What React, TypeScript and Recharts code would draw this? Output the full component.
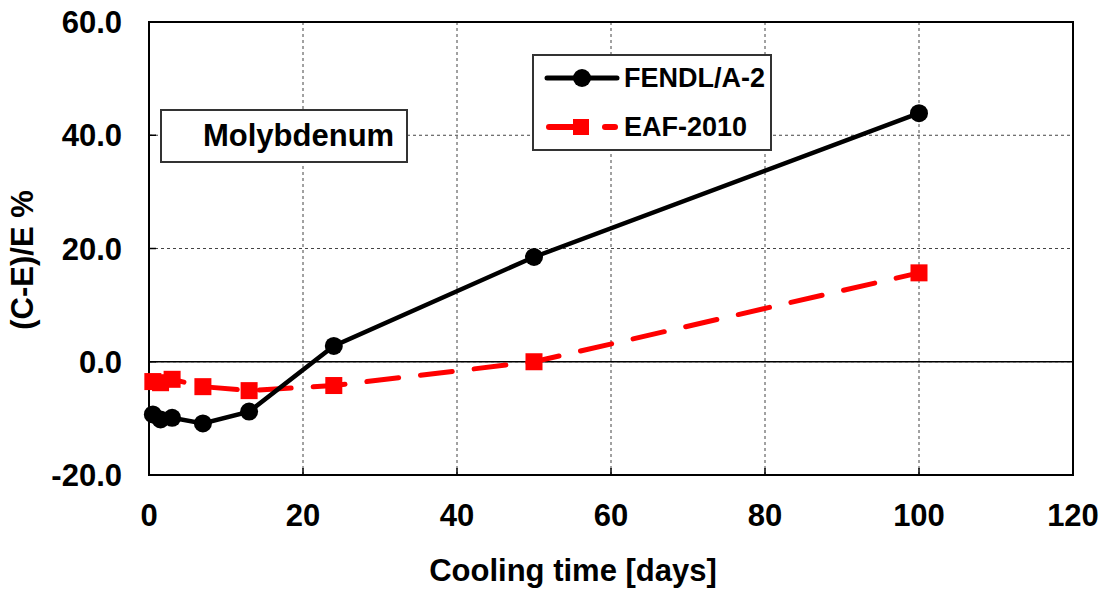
import {
  LineChart,
  Line,
  XAxis,
  YAxis,
  CartesianGrid,
  ReferenceLine,
  ReferenceArea,
} from 'recharts';

const coolingDays = [0.5, 1.5, 3, 7, 13, 24, 50, 100];
const fendlValues = [-9.3, -10.2, -9.9, -10.9, -8.8, 2.8, 18.5, 43.9];
const eafValues = [-3.5, -3.7, -3.1, -4.4, -5.1, -4.2, 0.0, 15.7];
const xTicks = [0, 20, 40, 60, 80, 100, 120];
const yTicks = [-20, 0, 20, 40, 60];

const FONT = '"Liberation Sans", Arial, sans-serif';
const RED = '#ff0000';
const DASH = '32 22';

const chartData = coolingDays.map((day, i) => ({
  day,
  fendl: fendlValues[i],
  eaf: eafValues[i],
}));

function SquareDot(props: any) {
  const { cx, cy } = props;
  if (cx == null || cy == null) return null;
  return <rect x={cx - 8.5} y={cy - 8.5} width={17} height={17} fill={RED} />;
}

function CircleDot(props: any) {
  const { cx, cy } = props;
  if (cx == null || cy == null) return null;
  return <circle cx={cx} cy={cy} r={9} fill="#000" />;
}

// legend drawn as an overlay so the chart does not reserve room for it
function LegendBox() {
  return (
    <div
      style={{
        position: 'absolute',
        left: 532,
        top: 54,
        width: 240,
        height: 97,
        border: '2px solid #333',
        background: '#fff',
        boxSizing: 'border-box',
      }}
    >
      <svg width={236} height={93} style={{ position: 'absolute', left: 0, top: 0 }}>
        <line x1={13} y1={22} x2={83} y2={22} stroke="#000" strokeWidth={5} strokeLinecap="round" />
        <circle cx={48} cy={22} r={9} fill="#000" />
        <text x={90} y={31} fontFamily={FONT} fontWeight="bold" fontSize={27} fill="#000">
          FENDL/A-2
        </text>
        <line x1={15} y1={71} x2={50} y2={71} stroke={RED} strokeWidth={6} strokeLinecap="round" />
        <rect x={39} y={63} width={16} height={16} fill={RED} />
        <line x1={71} y1={71} x2={81} y2={71} stroke={RED} strokeWidth={6} strokeLinecap="round" />
        <text x={90} y={80} fontFamily={FONT} fontWeight="bold" fontSize={27} fill="#000">
          EAF-2010
        </text>
      </svg>
    </div>
  );
}

export default function App() {
  return (
    <div style={{ position: 'absolute', left: 0, top: 0, width: 1104, height: 589, background: '#fff' }}>
      <LineChart
        width={1104}
        height={589}
        data={chartData}
        margin={{ top: 22, right: 31, left: 49, bottom: 24 }}
      >
        <CartesianGrid stroke="#444" strokeDasharray="3 3" strokeWidth={1} />
        <XAxis
          dataKey="day"
          type="number"
          domain={[0, 120]}
          ticks={xTicks}
          height={90}
          axisLine={false}
          tickSize={-7}
          tickMargin={36}
          tickLine={{ stroke: '#000', strokeWidth: 1.5 }}
          tick={{ fill: '#000', fontSize: 31, fontWeight: 'bold', fontFamily: FONT }}
          label={{
            content: () => (
              <text
                x={573}
                y={581}
                textAnchor="middle"
                fontFamily={FONT}
                fontWeight="bold"
                fontSize={31}
                fill="#000"
              >
                Cooling time [days]
              </text>
            ),
          }}
        />
        <YAxis
          type="number"
          domain={[-20, 60]}
          ticks={yTicks}
          width={100}
          axisLine={false}
          tickSize={-7}
          tickMargin={34}
          tickLine={{ stroke: '#000', strokeWidth: 1.5 }}
          tickFormatter={(v: number) => v.toFixed(1)}
          tick={{ fill: '#000', fontSize: 31, fontWeight: 'bold', fontFamily: FONT }}
          label={{
            content: () => (
              <text
                x={0}
                y={0}
                transform="translate(33, 260) rotate(-90)"
                textAnchor="middle"
                fontFamily={FONT}
                fontWeight="bold"
                fontSize={31}
                fill="#000"
              >
                (C-E)/E %
              </text>
            ),
          }}
        />
        <ReferenceLine y={0} stroke="#000" strokeWidth={1.5} />
        <ReferenceArea
          x1={0}
          x2={120}
          y1={-20}
          y2={60}
          fill="none"
          fillOpacity={0}
          stroke="#000"
          strokeWidth={2}
        />
        <Line
          dataKey="eaf"
          name="EAF-2010"
          stroke={RED}
          strokeWidth={5}
          strokeDasharray={DASH}
          strokeLinecap="round"
          dot={<SquareDot />}
          activeDot={false}
          isAnimationActive={false}
        />
        <Line
          dataKey="fendl"
          name="FENDL/A-2"
          stroke="#000"
          strokeWidth={4.5}
          dot={<CircleDot />}
          activeDot={false}
          isAnimationActive={false}
        />
      </LineChart>
      <LegendBox />
      <div
        style={{
          position: 'absolute',
          left: 160,
          top: 109,
          width: 248,
          height: 54,
          border: '2px solid #333',
          boxSizing: 'border-box',
          background: '#fff',
          fontFamily: FONT,
          fontWeight: 'bold',
          fontSize: 31,
          color: '#000',
          paddingLeft: 41,
          lineHeight: '50px',
        }}
      >
        Molybdenum
      </div>
    </div>
  );
}
